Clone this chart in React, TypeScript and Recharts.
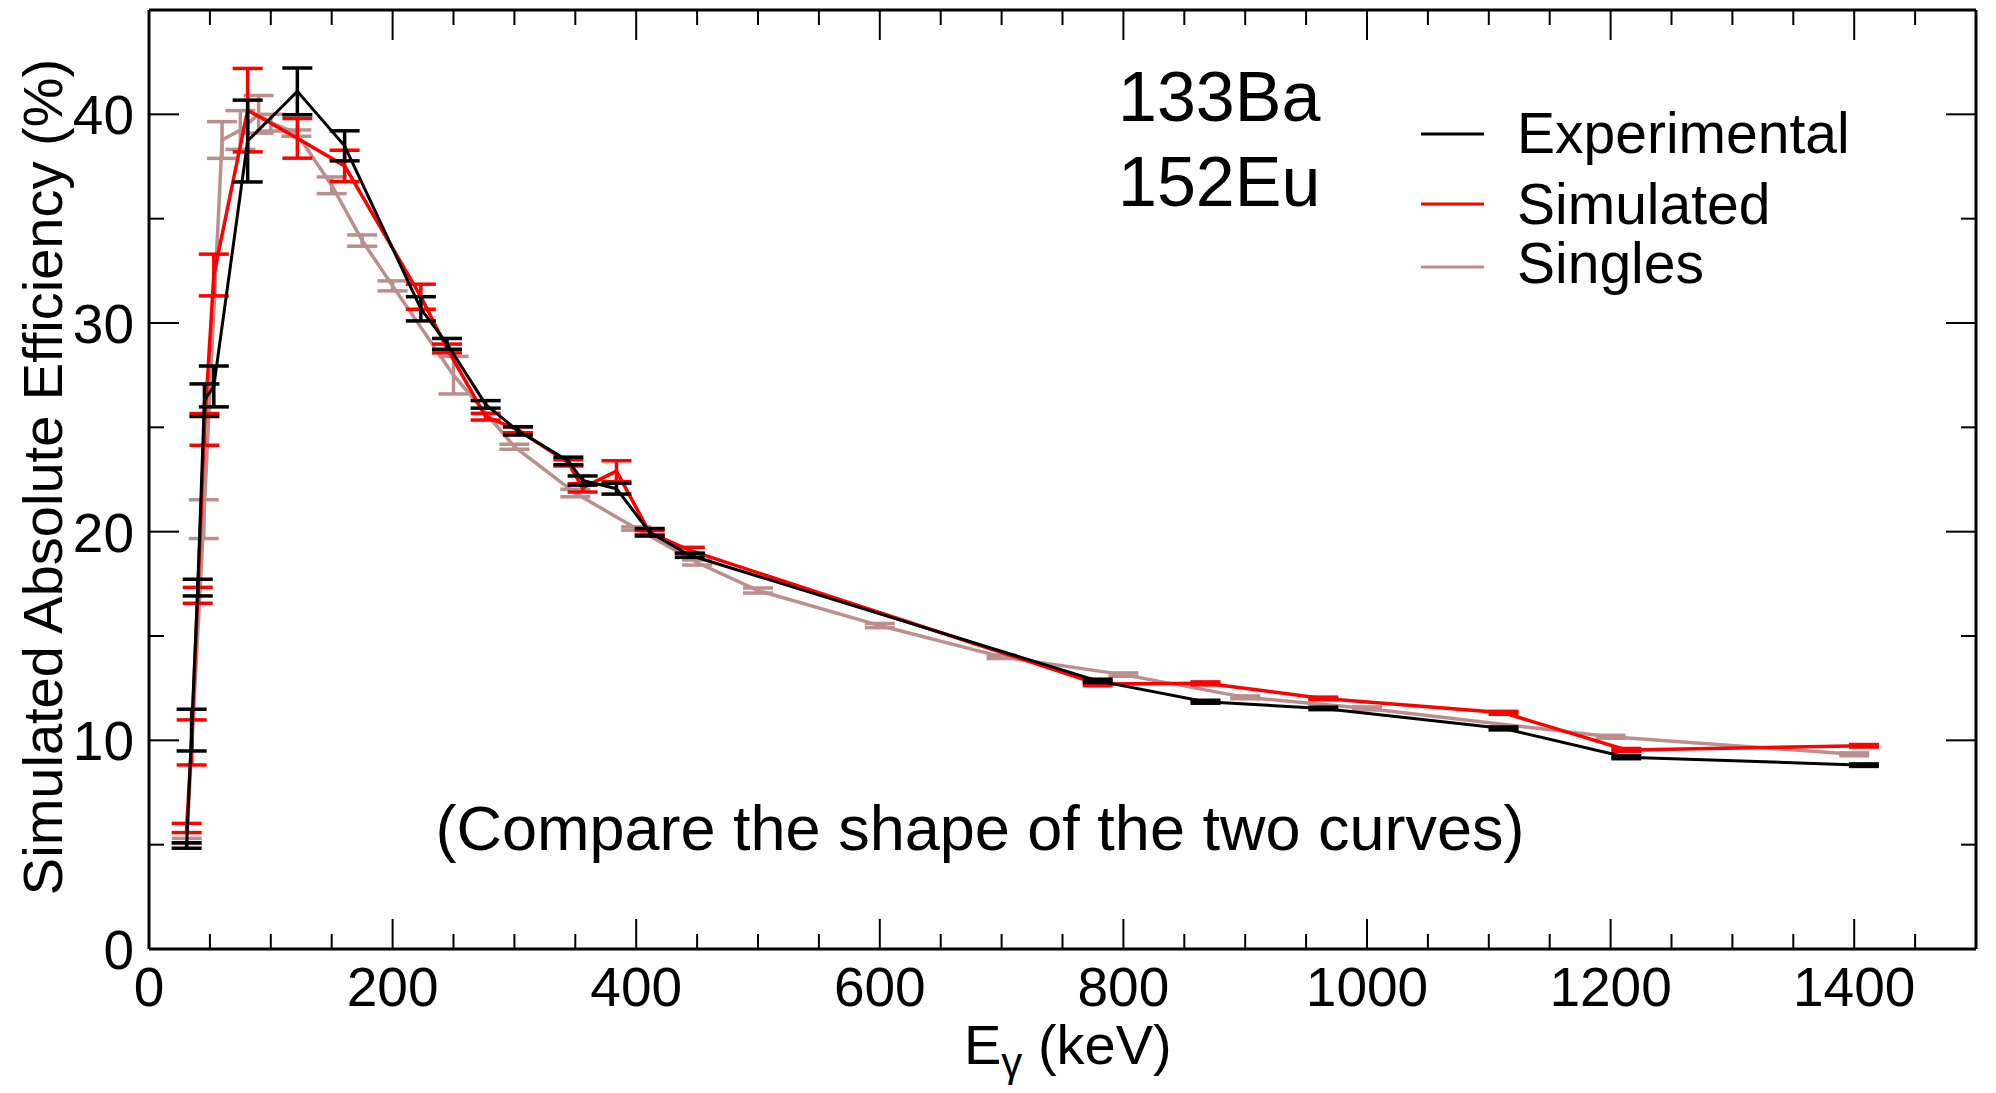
import React from 'react';
import { ComposedChart, Line, ErrorBar, XAxis, YAxis } from 'recharts';

// gamma energies (keV) of the Ba-133 / Eu-152 lines used for the coincidence data
const lineEnergies = [30.9, 35.0, 40.0, 45.5, 53.2, 81.0, 121.8, 160.6, 223.2, 244.7, 276.4, 302.9, 344.3, 356.0, 383.8, 411.1, 444.0, 778.9, 867.4, 964.1, 1112.1, 1212.9, 1408.0];

const expValues = [4.96, 10.49, 17.32, 26.3, 26.96, 38.72, 41.1, 38.49, 30.68, 29.0, 26.1, 24.83, 23.39, 22.45, 22.06, 19.97, 18.87, 12.85, 11.85, 11.53, 10.57, 9.19, 8.81];
const expErrors = [0.13, 1.0, 0.4, 0.78, 0.98, 1.96, 1.12, 0.72, 0.58, 0.26, 0.18, 0.2, 0.18, 0.22, 0.26, 0.18, 0.1, 0.08, 0.07, 0.06, 0.07, 0.07, 0.06];

const simValues = [5.8, 9.9, 16.95, 24.9, 32.3, 40.2, 38.85, 37.53, 31.26, 28.78, 25.51, 24.88, 23.3, 22.1, 22.9, 19.95, 19.1, 12.7, 12.73, 12.01, 11.32, 9.54, 9.74];
const simErrors = [0.22, 1.08, 0.38, 0.76, 1.0, 2.0, 0.95, 0.75, 0.6, 0.21, 0.16, 0.14, 0.15, 0.2, 0.5, 0.1, 0.15, 0.08, 0.07, 0.06, 0.07, 0.07, 0.06];

// singles were simulated on a regular energy grid
const singlesEnergies = [31, 45, 60, 75, 90, 100, 121, 150, 175, 200, 250, 300, 350, 400, 450, 500, 600, 700, 800, 900, 1000, 1200, 1400];
const singlesValues = [5.18, 20.6, 38.77, 39.25, 40.0, 39.6, 39.1, 36.6, 33.95, 31.78, 27.5, 24.07, 21.85, 20.15, 18.52, 17.18, 15.5, 14.0, 13.15, 12.06, 11.53, 10.17, 9.33];
const singlesErrors = [0.12, 0.93, 0.88, 0.93, 0.9, 0.4, 0.15, 0.4, 0.27, 0.24, 0.9, 0.12, 0.18, 0.08, 0.12, 0.12, 0.1, 0.08, 0.08, 0.07, 0.07, 0.07, 0.07];

const xTicks = [0, 50, 100, 150, 200, 250, 300, 350, 400, 450, 500, 550, 600, 650, 700, 750, 800, 850, 900, 950, 1000, 1050, 1100, 1150, 1200, 1250, 1300, 1350, 1400, 1450, 1500];
const yTicks = [0, 5, 10, 15, 20, 25, 30, 35, 40, 45];

const seriesNames = ['Experimental', 'Simulated', 'Singles'];
const seriesColors = ['#000000', '#ff0000', '#bc8f8f'];

const toRows = (xs: number[], vs: number[], es: number[]) =>
  xs.map((e, i) => ({ e, v: vs[i], err: es[i] }));

const expData = toRows(lineEnergies, expValues, expErrors);
const simData = toRows(lineEnergies, simValues, simErrors);
const singlesData = toRows(singlesEnergies, singlesValues, singlesErrors);

const FONT = '"Liberation Sans", Arial, Helvetica, sans-serif';
const W = 1980;
const H = 1077;

const BottomTick = (props: any) => {
  const { x, y, payload } = props;
  const v = payload.value;
  const major = v % 200 === 0;
  return (
    <g>
      <line x1={x} x2={x} y1={y} y2={y - (major ? 30 : 15)} stroke="#000" strokeWidth={2} />
      {major && (
        <text x={x} y={y + 57} textAnchor="middle" fontSize={55} fontFamily={FONT} fill="#000">
          {v}
        </text>
      )}
    </g>
  );
};

const TopTick = (props: any) => {
  const { x, y, payload } = props;
  const major = payload.value % 200 === 0;
  return <line x1={x} x2={x} y1={y} y2={y + (major ? 30 : 15)} stroke="#000" strokeWidth={2} />;
};

const LeftTick = (props: any) => {
  const { x, y, payload } = props;
  const v = payload.value;
  const major = v % 10 === 0;
  return (
    <g>
      <line x1={x} x2={x + (major ? 30 : 15)} y1={y} y2={y} stroke="#000" strokeWidth={2} />
      {major && (
        <text x={x - 15} y={y + 20} textAnchor="end" fontSize={55} fontFamily={FONT} fill="#000">
          {v}
        </text>
      )}
    </g>
  );
};

const RightTick = (props: any) => {
  const { x, y, payload } = props;
  const major = payload.value % 10 === 0;
  return <line x1={x} x2={x - (major ? 30 : 15)} y1={y} y2={y} stroke="#000" strokeWidth={2} />;
};

const axisLine = { stroke: '#000', strokeWidth: 3 };

export default function App() {
  return (
    <div style={{ position: 'relative', width: W, height: H }}>
      <ComposedChart width={W} height={H} margin={{ top: 0, right: 0, bottom: 0, left: 0 }}>
        <XAxis xAxisId="b" type="number" dataKey="e" domain={[0, 1500]} allowDataOverflow ticks={xTicks}
          interval={0} height={136} tickSize={0} tickMargin={0} tickLine={false} axisLine={axisLine} tick={<BottomTick />} />
        <XAxis xAxisId="t" orientation="top" type="number" dataKey="e" domain={[0, 1500]} allowDataOverflow ticks={xTicks}
          interval={0} height={2} tickSize={0} tickMargin={0} tickLine={false} axisLine={axisLine} tick={<TopTick />} />
        <YAxis yAxisId="l" type="number" domain={[0, 45]} allowDataOverflow ticks={yTicks}
          interval={0} width={141} tickSize={0} tickMargin={0} tickLine={false} axisLine={axisLine} tick={<LeftTick />} />
        <YAxis yAxisId="r" orientation="right" type="number" domain={[0, 45]} allowDataOverflow ticks={yTicks}
          interval={0} width={12} tickSize={0} tickMargin={0} tickLine={false} axisLine={axisLine} tick={<RightTick />} />

        <Line xAxisId="b" yAxisId="l" data={singlesData} dataKey="v" type="linear" stroke={seriesColors[2]}
          strokeWidth={3.5} dot={false} isAnimationActive={false}>
          <ErrorBar dataKey="err" direction="y" width={15} stroke={seriesColors[2]} strokeWidth={3.5} />
        </Line>
        <Line xAxisId="b" yAxisId="l" data={simData} dataKey="v" type="linear" stroke={seriesColors[1]}
          strokeWidth={3.5} dot={false} isAnimationActive={false}>
          <ErrorBar dataKey="err" direction="y" width={15} stroke={seriesColors[1]} strokeWidth={3.5} />
        </Line>
        <Line xAxisId="b" yAxisId="l" data={expData} dataKey="v" type="linear" stroke={seriesColors[0]}
          strokeWidth={3} dot={false} isAnimationActive={false}>
          <ErrorBar dataKey="err" direction="y" width={15} stroke={seriesColors[0]} strokeWidth={3.5} />
        </Line>
      </ComposedChart>

      <svg width={W} height={H} style={{ position: 'absolute', left: 0, top: 0, pointerEvents: 'none' }}>
        <g fontFamily={FONT} fill="#000">
          <text x={1110} y={113} fontSize={70}>133Ba</text>
          <text x={1110} y={198} fontSize={70}>152Eu</text>
          {seriesNames.map((name, i) => (
            <g key={name}>
              <line x1={1413} x2={1476} y1={126 + [0, 70, 133][i]} y2={126 + [0, 70, 133][i]}
                stroke={seriesColors[i]} strokeWidth={3} />
              <text x={1509} y={145 + [0, 71, 130][i]} fontSize={57}>{name}</text>
            </g>
          ))}
          <text x={972} y={842} fontSize={63} textAnchor="middle">(Compare the shape of the two curves)</text>
          <text x={956} y={1056} fontSize={56}>
            E<tspan fontSize={42} dy={13}>γ</tspan><tspan dy={-13}> (keV)</tspan>
          </text>
          <text transform="translate(54,469) rotate(-90)" fontSize={56} textAnchor="middle">
            Simulated Absolute Efficiency (%)
          </text>
        </g>
      </svg>
    </div>
  );
}
